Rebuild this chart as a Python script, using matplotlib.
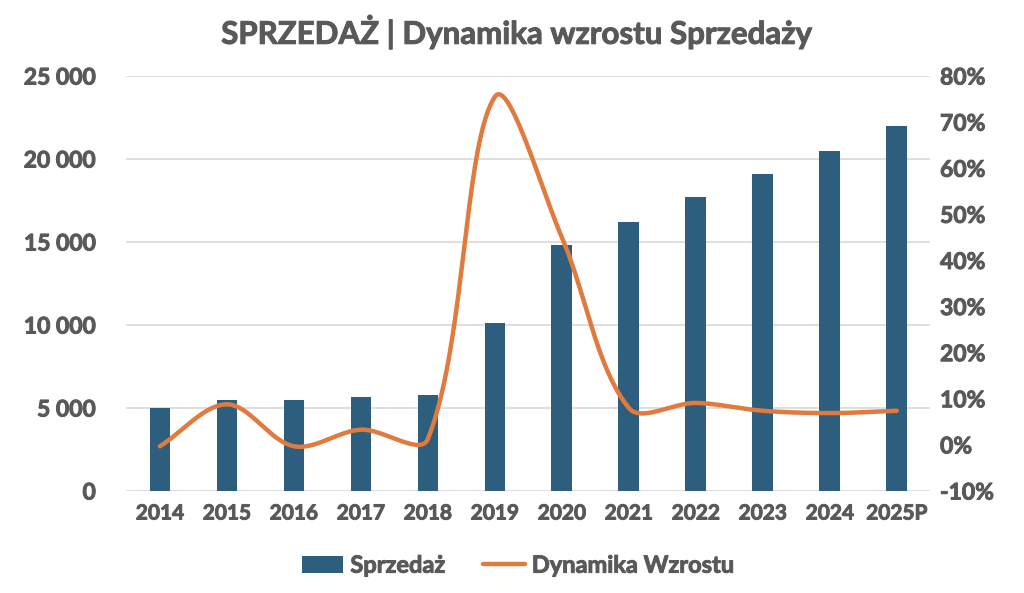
import numpy as np
import matplotlib.pyplot as plt
import matplotlib.patheffects as pe
from matplotlib.ticker import FuncFormatter

# data
years = ['2014', '2015', '2016', '2017', '2018', '2019', '2020',
         '2021', '2022', '2023', '2024', '2025P']
sprzedaz = [5000, 5480, 5480, 5660, 5780, 10120, 14850,
            16200, 17710, 19100, 20480, 21990]
dynamika = [-0.3, 8.8, -0.3, 3.3, 1.3, 75.5, 45.0,
            8.0, 9.1, 7.4, 6.9, 7.4]

BAR = '#2E5E7E'
LINE = '#E07A3E'
TXT = '#595959'
GRID = '#D9D9D9'

plt.rcParams['font.family'] = ['Lato', 'DejaVu Sans']
plt.rcParams['font.weight'] = 'bold'

# a little extra stroke to get the heavy look of the original font
heavy = [pe.withStroke(linewidth=0.7, foreground=TXT)]


def smooth(x, y, sx=67.0, sy=4.61, n=40):
    # Excel-style smoothed line: bezier through the points, tangents
    # split by the (screen) length of the neighbouring segments
    P = np.column_stack([np.asarray(x, float) * sx, np.asarray(y, float) * sy])
    m = len(P)
    cin = P.copy()
    cout = P.copy()
    for i in range(m):
        a = P[max(i - 1, 0)]
        b = P[min(i + 1, m - 1)]
        T = b - a
        dp = np.linalg.norm(P[i] - a)
        dn = np.linalg.norm(b - P[i])
        if dp + dn == 0:
            continue
        cin[i] = P[i] - T / 3 * dp / (dp + dn)
        cout[i] = P[i] + T / 3 * dn / (dp + dn)
    t = np.linspace(0, 1, n)[:, None]
    pts = []
    for i in range(m - 1):
        p0, c1, c2, p1 = P[i], cout[i], cin[i + 1], P[i + 1]
        pts.append((1 - t) ** 3 * p0 + 3 * (1 - t) ** 2 * t * c1
                   + 3 * (1 - t) * t ** 2 * c2 + t ** 3 * p1)
    pts = np.vstack(pts)
    return pts[:, 0] / sx, pts[:, 1] / sy


fig = plt.figure(figsize=(10.24, 5.93), dpi=100)
ax = fig.add_axes([0.1235, 0.172, 0.785, 0.6998])
ax2 = ax.twinx()

x = np.arange(len(years))
bars = ax.bar(x, sprzedaz, width=0.31, color=BAR, zorder=2, label='Sprzedaż')
ax.set_ylim(0, 25000)
ax.set_yticks(np.arange(0, 25001, 5000))
ax.yaxis.set_major_formatter(FuncFormatter(lambda v, p: f'{int(v):,}'.replace(',', ' ')))
ax.set_xlim(-0.5, len(years) - 0.5)
ax.set_xticks(x)
ax.set_xticklabels(years)
ax.grid(axis='y', color=GRID, linewidth=1.2, zorder=0)
ax.set_axisbelow(True)

sx, sy = smooth(x, dynamika)
line, = ax2.plot(sx, sy, color=LINE, linewidth=3.2, solid_capstyle='round',
                 label='Dynamika Wzrostu', zorder=3)
ax2.set_ylim(-10, 80)
ax2.set_yticks(np.arange(-10, 81, 10))
ax2.yaxis.set_major_formatter(FuncFormatter(lambda v, p: f'{int(v)}%'))

for a in (ax, ax2):
    for s in a.spines.values():
        s.set_visible(False)
    a.tick_params(length=0, colors=TXT, labelsize=16.5)
ax.tick_params(axis='x', labelsize=15, pad=9)
ax.tick_params(axis='y', pad=22)
ax2.tick_params(axis='y', pad=7)
for lab in ax.get_xticklabels() + ax.get_yticklabels() + ax2.get_yticklabels():
    lab.set_path_effects(heavy)

title = fig.suptitle('SPRZEDAŻ | Dynamika wzrostu Sprzedaży', x=0.505, y=0.975,
                     fontsize=22.5, color=TXT, fontweight='bold')
title.set_path_effects(heavy)

leg = fig.legend([bars, line], ['Sprzedaż', 'Dynamika Wzrostu'], loc='center',
                 bbox_to_anchor=(0.506, 0.047), ncol=2, frameon=False, fontsize=17,
                 labelcolor=TXT, handlelength=1.75, handletextpad=0.3,
                 columnspacing=1.6)
for t in leg.get_texts():
    t.set_path_effects(heavy)

plt.savefig('out.png', dpi=100)
